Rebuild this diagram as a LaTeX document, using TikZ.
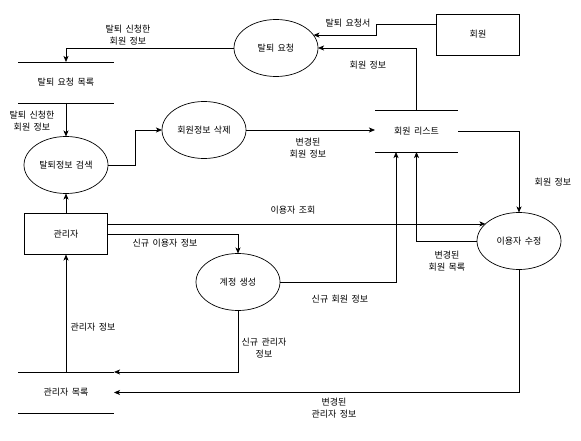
\documentclass[tikz,border=0pt]{standalone}
\usepackage{fontspec}
\setmainfont{Noto Sans CJK KR}[WordSpace=1.7]
\usetikzlibrary{shapes.geometric,arrows.meta,calc}
\begin{document}
\begin{tikzpicture}[x=1pt,y=-1pt,
  font=\fontsize{9}{12.5}\selectfont,
  every node/.style={inner sep=0pt,outer sep=0pt},
  proc/.style={draw,ellipse,minimum width=84pt,minimum height=57pt,line width=0.7pt},
  ent/.style={draw,rectangle,minimum width=83pt,minimum height=41pt,line width=0.7pt},
  store/.style={minimum width=96pt,minimum height=41pt},
  lbl/.style={align=center},
  arr/.style={draw,line width=0.7pt,-{Stealth[length=6pt,width=5pt,inset=1.5pt]}}
]
\useasboundingbox (0,0) rectangle (581,441);
% nodes
\node[ent] (member) at (478,34.5) {회원};
\node[proc] (req) at (276,48) {탈퇴 요청};
\node[store] (wlist) at (66,82.5) {탈퇴 요청 목록};
\node[store,minimum width=83pt,minimum height=42pt] (mlist) at (416.5,131) {회원 리스트};
\node[proc] (wsearch) at (66,165) {탈퇴정보 검색};
\node[proc] (del) at (204,130) {회원정보 삭제};
\node[ent] (admin) at (66,234) {관리자};
\node[proc] (acct) at (238,282) {계정 생성};
\node[proc] (modify) at (519,241) {이용자 수정};
\node[store] (alist) at (66,392.5) {관리자 목록};
% store lines
\foreach \s in {wlist,mlist,alist}{
  \draw[line width=0.7pt] (\s.north west) -- (\s.north east) (\s.south west) -- (\s.south east);
}
% connectors
\draw[arr] ([yshift=10pt]member.west) -- ++(-60,0) |- (req.19);
\draw[arr] (mlist.north) |- (req.east);
\draw[arr] (req.west) -| (wlist.north);
\draw[arr] (wlist.south) -- (wsearch.north);
\draw[arr] (admin.north) -- (wsearch.south);
\draw[arr] (wsearch.east) -- ++(27,0) |- (del.west);
\draw[arr] (del.east) -- (del.east -| mlist.west);
\draw[arr] (mlist.east) -| (modify.north);
\draw[arr] (admin.east |- modify.153) -- (modify.153);
\draw[arr] (admin.east) -| (acct.north);
\draw[arr] (acct.east) -| ([xshift=-20.5pt]mlist.south);
\draw[arr] (modify.west) -| (mlist.south);
\draw[arr] (acct.south) |- (alist.north east);
\draw[arr] (alist.north) -- (admin.south);
\draw[arr] (modify.south) |- (alist.east);
% labels
\node[lbl] (l1) at (348,23) {탈퇴 요청서};
\node[lbl] (l2) at (368,65) {회원 정보};
\node[lbl] (l3) at (128,35) {탈퇴 신청한\\회원 정보};
\node[lbl] (l4) at (32,121) {탈퇴 신청한\\회원 정보};
\node[lbl] (l5) at (308,148) {변경된\\회원 정보};
\node[lbl] (l6) at (553,182) {회원 정보};
\node[lbl] (l7) at (293,210) {이용자 조회};
\node[lbl] (l8) at (165,243) {신규 이용자 정보};
\node[lbl] (l9) at (340,299) {신규 회원 정보};
\node[lbl] (l10) at (447,261) {변경된\\회원 목록};
\node[lbl] (l11) at (264,348) {신규 관리자\\정보};
\node[lbl] (l12) at (93,327) {관리자 정보};
\node[lbl] (l13) at (334,408) {변경된\\관리자 정보};
\end{tikzpicture}
\end{document}
